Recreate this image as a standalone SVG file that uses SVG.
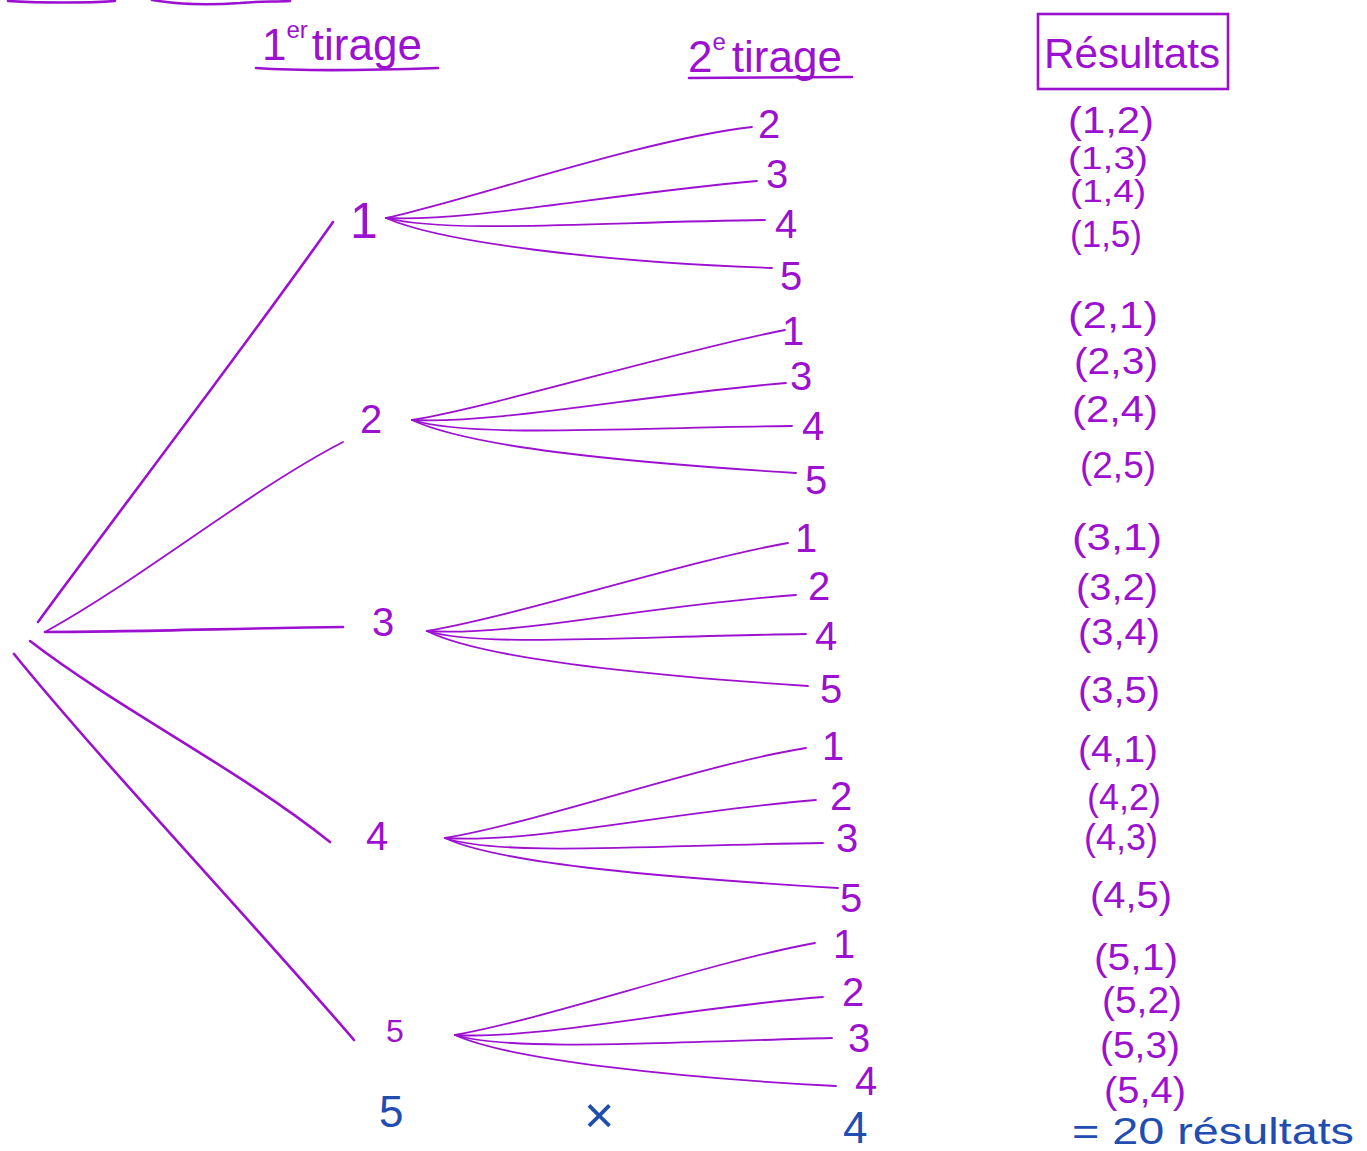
<svg xmlns="http://www.w3.org/2000/svg" width="1367" height="1151" viewBox="0 0 1367 1151">
<style>
.p{fill:none;stroke:#9c10cf;stroke-linecap:round}
.m{stroke-width:2.6}
.f{stroke-width:1.8}
.t{font-family:"Liberation Sans",Arial,sans-serif;fill:#9c10cf}
.b{font-family:"Liberation Sans",Arial,sans-serif;fill:#1f4db0}
.l2{font-size:40px}
.r{font-size:36px}
.rs{font-size:31px}
</style>
<rect width="1367" height="1151" fill="#fff"/>
<g id="scribble">
<path class="p m" d="M8,1 C40,3 90,3 115,1"/>
<path class="p m" d="M152,0 C175,4 210,5 240,3 C260,1 275,2 290,1"/>
</g>
<g id="headers">
<text class="t" x="262" y="60" font-size="44">1<tspan font-size="24" dy="-22">er</tspan><tspan dy="22" dx="4">tirage</tspan></text>
<path class="p m" d="M256,68 C300,71 380,70 438,68"/>
<text class="t" x="688" y="72" font-size="44">2<tspan font-size="24" dy="-22">e</tspan><tspan dy="22" dx="6">tirage</tspan></text>
<path class="p m" d="M689,78 L852,77"/>
<rect class="p m" x="1038" y="14" width="190" height="75"/>
<text class="t" x="1044" y="68" font-size="42" textLength="176" lengthAdjust="spacingAndGlyphs">Résultats</text>
</g>
<g id="connectors">
<path class="p m" d="M38,622 C120,510 250,340 333,222"/>
<path class="p f" d="M45,632 C140,580 250,490 343,442"/>
<path class="p m" d="M45,632 C130,632 250,628 343,627"/>
<path class="p m" d="M30,641 C120,710 240,770 330,842"/>
<path class="p m" d="M14,654 C100,760 260,930 354,1040"/>
<path class="p f" d="M386,218 C470,200 640,140 752,127"/>
<path class="p f" d="M386,218 C470,222 600,195 757,181"/>
<path class="p f" d="M386,218 C450,234 600,222 765,220"/>
<path class="p f" d="M386,218 C440,242 600,262 772,268"/>
<path class="p f" d="M412,420 C500,405 680,350 785,330"/>
<path class="p f" d="M412,420 C500,424 640,395 786,383"/>
<path class="p f" d="M412,420 C470,438 620,428 792,426"/>
<path class="p f" d="M412,420 C470,447 620,462 796,473"/>
<path class="p f" d="M427,631 C520,615 690,560 788,543"/>
<path class="p f" d="M427,631 C510,637 650,605 796,595"/>
<path class="p f" d="M427,631 C480,648 640,636 806,634"/>
<path class="p f" d="M427,631 C480,658 640,675 808,686"/>
<path class="p f" d="M445,838 C540,822 700,765 806,748"/>
<path class="p f" d="M445,838 C530,844 670,812 816,800"/>
<path class="p f" d="M445,838 C500,857 660,845 823,843"/>
<path class="p f" d="M445,838 C500,864 670,878 838,888"/>
<path class="p f" d="M455,1035 C550,1018 710,962 815,943"/>
<path class="p f" d="M455,1035 C540,1040 680,1008 823,997"/>
<path class="p f" d="M455,1035 C510,1052 670,1042 832,1038"/>
<path class="p f" d="M455,1035 C510,1060 680,1078 836,1086"/>
</g>
<g id="level1">
<text class="t" x="350" y="238" font-size="50">1</text>
<text class="t" x="360" y="433" font-size="40">2</text>
<text class="t" x="372" y="636" font-size="40">3</text>
<text class="t" x="366" y="850" font-size="40">4</text>
<text class="t" x="386" y="1042" font-size="32">5</text>
</g>
<g id="level2">
<text class="t l2" x="758" y="138">2</text>
<text class="t l2" x="766" y="188">3</text>
<text class="t l2" x="775" y="238">4</text>
<text class="t l2" x="780" y="290">5</text>
<text class="t l2" x="782" y="345">1</text>
<text class="t l2" x="790" y="390">3</text>
<text class="t l2" x="802" y="440">4</text>
<text class="t l2" x="805" y="494">5</text>
<text class="t l2" x="795" y="552">1</text>
<text class="t l2" x="808" y="600">2</text>
<text class="t l2" x="815" y="650">4</text>
<text class="t l2" x="820" y="703">5</text>
<text class="t l2" x="822" y="760">1</text>
<text class="t l2" x="830" y="810">2</text>
<text class="t l2" x="836" y="852">3</text>
<text class="t l2" x="840" y="912">5</text>
<text class="t l2" x="833" y="958">1</text>
<text class="t l2" x="842" y="1006">2</text>
<text class="t l2" x="848" y="1052">3</text>
<text class="t l2" x="855" y="1095">4</text>
</g>
<g id="results">
<text class="t r" x="1068" y="133" textLength="86" lengthAdjust="spacingAndGlyphs">(1,2)</text>
<text class="t rs" x="1068" y="169" textLength="80" lengthAdjust="spacingAndGlyphs">(1,3)</text>
<text class="t rs" x="1070" y="202" textLength="76" lengthAdjust="spacingAndGlyphs">(1,4)</text>
<text class="t r" x="1070" y="247" textLength="72" lengthAdjust="spacingAndGlyphs">(1,5)</text>
<text class="t r" x="1068" y="328" textLength="90" lengthAdjust="spacingAndGlyphs">(2,1)</text>
<text class="t r" x="1074" y="374" textLength="84" lengthAdjust="spacingAndGlyphs">(2,3)</text>
<text class="t r" x="1072" y="422" textLength="86" lengthAdjust="spacingAndGlyphs">(2,4)</text>
<text class="t r" x="1080" y="478" textLength="76" lengthAdjust="spacingAndGlyphs">(2,5)</text>
<text class="t r" x="1072" y="550" textLength="90" lengthAdjust="spacingAndGlyphs">(3,1)</text>
<text class="t r" x="1076" y="600" textLength="82" lengthAdjust="spacingAndGlyphs">(3,2)</text>
<text class="t r" x="1078" y="645" textLength="82" lengthAdjust="spacingAndGlyphs">(3,4)</text>
<text class="t r" x="1078" y="703" textLength="82" lengthAdjust="spacingAndGlyphs">(3,5)</text>
<text class="t r" x="1078" y="762" textLength="80" lengthAdjust="spacingAndGlyphs">(4,1)</text>
<text class="t r" x="1087" y="810" textLength="74" lengthAdjust="spacingAndGlyphs">(4,2)</text>
<text class="t r" x="1084" y="850" textLength="74" lengthAdjust="spacingAndGlyphs">(4,3)</text>
<text class="t r" x="1090" y="908" textLength="82" lengthAdjust="spacingAndGlyphs">(4,5)</text>
<text class="t r" x="1094" y="970" textLength="84" lengthAdjust="spacingAndGlyphs">(5,1)</text>
<text class="t r" x="1102" y="1013" textLength="80" lengthAdjust="spacingAndGlyphs">(5,2)</text>
<text class="t r" x="1100" y="1058" textLength="80" lengthAdjust="spacingAndGlyphs">(5,3)</text>
<text class="t r" x="1104" y="1103" textLength="82" lengthAdjust="spacingAndGlyphs">(5,4)</text>
</g>
<g id="total">
<text class="b" x="379" y="1127" font-size="44">5</text>
<text class="b" x="584" y="1133" font-size="52">×</text>
<text class="b" x="843" y="1143" font-size="44">4</text>
<text class="b" x="1072" y="1144" font-size="36" textLength="282" lengthAdjust="spacingAndGlyphs">= 20 résultats</text>
</g>
</svg>
